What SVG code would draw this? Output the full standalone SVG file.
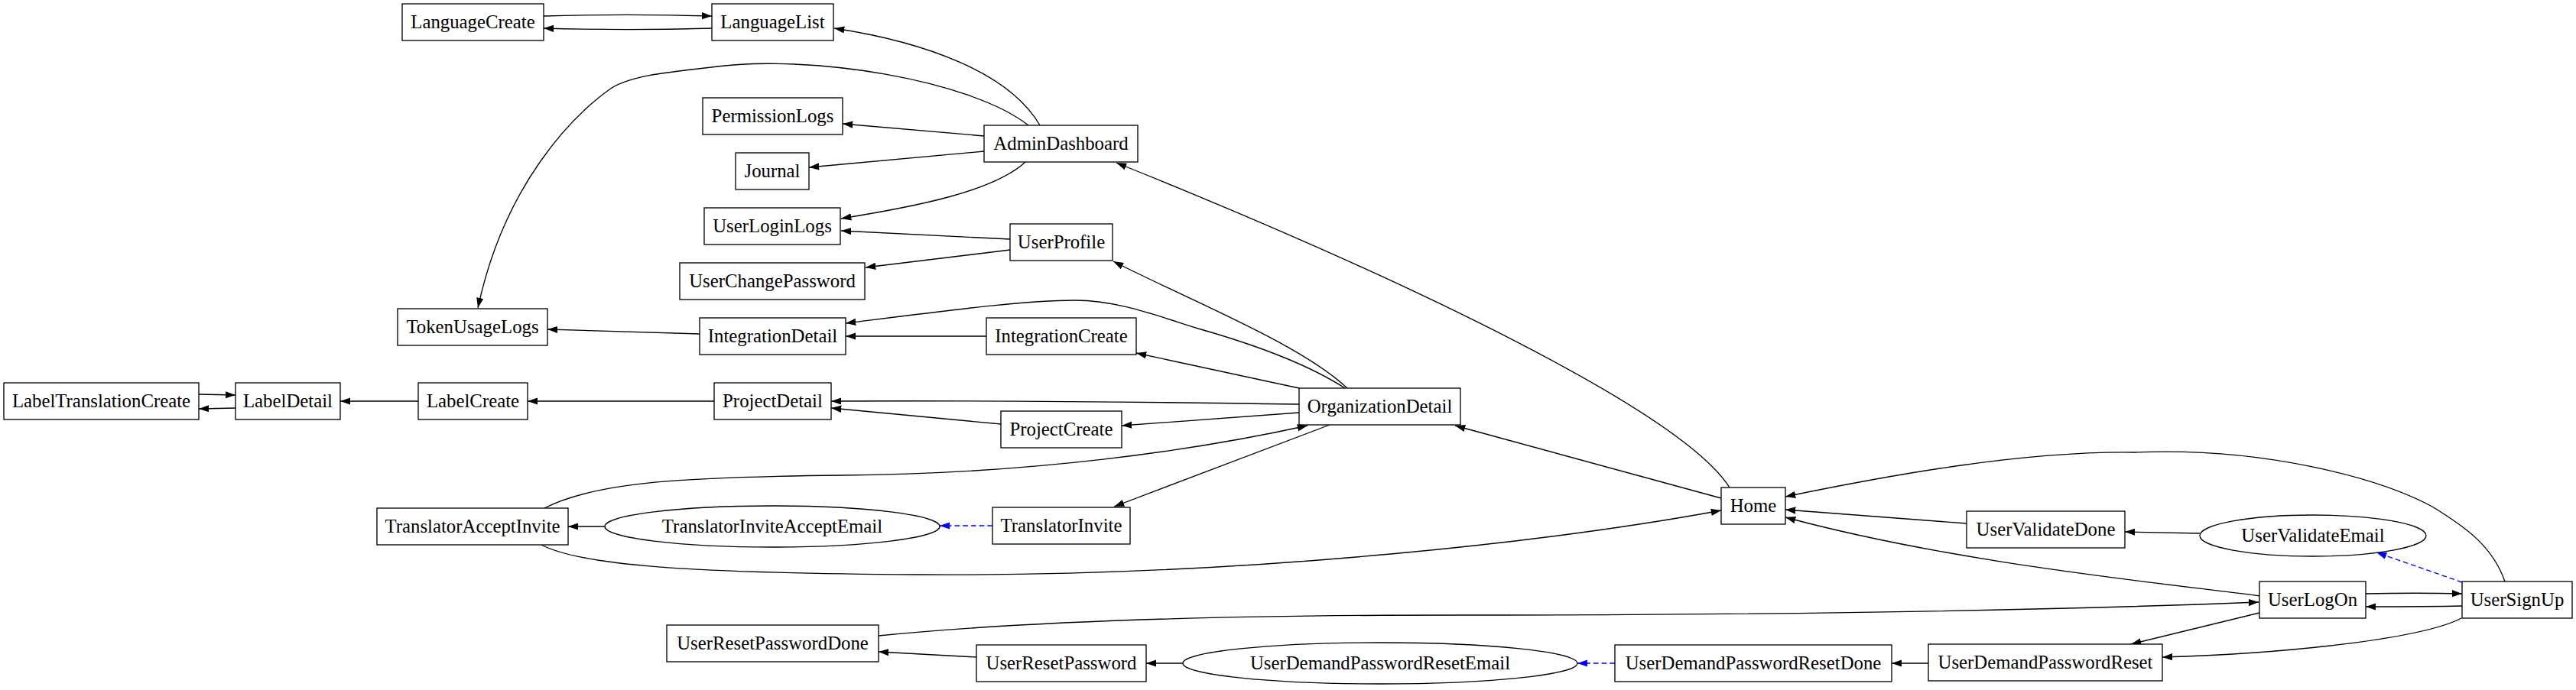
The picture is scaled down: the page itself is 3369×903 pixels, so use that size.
<svg xmlns="http://www.w3.org/2000/svg" width="3369" height="903" viewBox="0 0 3369 903">
<style>
.n rect,.n ellipse{fill:#fff;stroke:#000;stroke-width:1.33}
.n text{font-family:"Liberation Serif","Times New Roman",serif;font-size:24.8px;fill:#000;text-anchor:middle}
.e path{fill:none;stroke:#000;stroke-width:1.33;marker-end:url(#ah)}
.e path.d{stroke:#0000ff;stroke-dasharray:6.7,4;marker-end:url(#ahb)}
</style>
<defs>
<marker id="ah" viewBox="0 0 14 10" refX="13.3" refY="4.67" markerWidth="14" markerHeight="10" markerUnits="userSpaceOnUse" orient="auto"><path d="M0,0 L13.3,4.67 L0,9.33 Z" fill="#000"/></marker>
<marker id="ahb" viewBox="0 0 14 10" refX="13.3" refY="4.67" markerWidth="14" markerHeight="10" markerUnits="userSpaceOnUse" orient="auto"><path d="M0,0 L13.3,4.67 L0,9.33 Z" fill="#0000ff"/></marker>
</defs>
<rect width="3369" height="903" fill="#fff"/>
<g id="edges" class="e">
<path d="M711,21 C780,19 860,19 931,21"/>
<path d="M931,37 C860,39 780,39 711,37"/>
<path d="M1360,164 C1320,95 1210,55 1091,37"/>
<path d="M1345,164 C1270,105 1060,70 930,88 C860,96 825,100 800,115 C750,150 660,240 625,403"/>
<path d="M1287,178 L1102,162"/>
<path d="M1287,198 L1058,219"/>
<path d="M1341,212 C1300,250 1200,270 1100,286"/>
<path d="M1321,313 L1100,302"/>
<path d="M1321,327 L1132,350"/>
<path d="M1762,508 C1700,450 1560,395 1456,342"/>
<path d="M1759,508 C1700,470 1620,445 1567,430 C1510,412 1460,393 1406,393 C1340,393 1250,405 1106,423"/>
<path d="M1290,440 L1106,440"/>
<path d="M915,437 L716,431"/>
<path d="M1699,508 L1486,462"/>
<path d="M1699,529 C1500,526 1300,524 1087,525"/>
<path d="M1309,555 L1087,534"/>
<path d="M1699,540 L1467,557"/>
<path d="M934,525 L690,525"/>
<path d="M547,525 L445,525"/>
<path d="M308,534 L260,535"/>
<path d="M260,516 L308,517"/>
<path d="M712,665 C780,630 900,624 1100,622 C1350,620 1560,590 1710,557"/>
<path d="M1739,556 L1457,663"/>
<path class="d" d="M1298,688 L1229,688"/>
<path d="M791,689 L743,689"/>
<path d="M708,713 C760,740 900,750 1200,752 C1650,755 2050,705 2251,668"/>
<path d="M2251,652 L1903,557"/>
<path d="M2262,638 C2200,540 1850,370 1460,213"/>
<path d="M2572,685 L2335,667"/>
<path d="M2877,698 L2779,696"/>
<path d="M3276,761 C3260,715 3225,690 3181,663 C3110,625 2960,585 2792,592 C2650,590 2480,620 2335,650"/>
<path class="d" d="M3220,762 L3108,723"/>
<path d="M2956,780 C2800,760 2550,735 2335,677"/>
<path d="M1149,832 C1350,812 1600,805 1900,805 C2300,805 2650,800 2954,788"/>
<path d="M3094,777 C3140,776 3180,776 3220,777"/>
<path d="M3220,793 C3180,794 3140,794 3094,794"/>
<path d="M2955,802 L2787,843"/>
<path d="M3219,809 C3170,835 3000,855 2828,860"/>
<path d="M2522,868 L2474,868"/>
<path class="d" d="M2112,868 L2063,868"/>
<path d="M1547,868 L1499,868"/>
<path d="M1277,860 L1149,853"/>
</g>
<g id="LanguageCreate" class="n"><rect x="526" y="5" width="185" height="48"/><text x="618.5" y="37">LanguageCreate</text></g>
<g id="LanguageList" class="n"><rect x="931" y="5" width="159" height="48"/><text x="1010.5" y="37">LanguageList</text></g>
<g id="PermissionLogs" class="n"><rect x="919" y="128" width="183" height="48"/><text x="1010.5" y="160">PermissionLogs</text></g>
<g id="Journal" class="n"><rect x="962" y="200" width="96" height="48"/><text x="1010" y="232">Journal</text></g>
<g id="UserLoginLogs" class="n"><rect x="921" y="272" width="178" height="48"/><text x="1010" y="304">UserLoginLogs</text></g>
<g id="UserChangePassword" class="n"><rect x="889" y="344" width="242" height="48"/><text x="1010" y="376">UserChangePassword</text></g>
<g id="TokenUsageLogs" class="n"><rect x="520" y="404" width="196" height="48"/><text x="618" y="436">TokenUsageLogs</text></g>
<g id="IntegrationDetail" class="n"><rect x="915" y="416" width="191" height="48"/><text x="1010.5" y="448">IntegrationDetail</text></g>
<g id="LabelTranslationCreate" class="n"><rect x="5" y="501" width="255" height="48"/><text x="132.5" y="533">LabelTranslationCreate</text></g>
<g id="LabelDetail" class="n"><rect x="308" y="501" width="137" height="48"/><text x="376.5" y="533">LabelDetail</text></g>
<g id="LabelCreate" class="n"><rect x="547" y="501" width="143" height="48"/><text x="618.5" y="533">LabelCreate</text></g>
<g id="ProjectDetail" class="n"><rect x="934" y="501" width="153" height="48"/><text x="1010.5" y="533">ProjectDetail</text></g>
<g id="TranslatorAcceptInvite" class="n"><rect x="493" y="665" width="250" height="48"/><text x="618" y="697">TranslatorAcceptInvite</text></g>
<g id="TranslatorInviteAcceptEmail" class="n"><ellipse cx="1010" cy="689" rx="219" ry="27"/><text x="1010" y="697">TranslatorInviteAcceptEmail</text></g>
<g id="UserResetPasswordDone" class="n"><rect x="872" y="818" width="277" height="48"/><text x="1010.5" y="850">UserResetPasswordDone</text></g>
<g id="AdminDashboard" class="n"><rect x="1287" y="164" width="201" height="48"/><text x="1387.5" y="196">AdminDashboard</text></g>
<g id="UserProfile" class="n"><rect x="1321" y="293" width="134" height="48"/><text x="1388" y="325">UserProfile</text></g>
<g id="IntegrationCreate" class="n"><rect x="1290" y="416" width="196" height="48"/><text x="1388" y="448">IntegrationCreate</text></g>
<g id="ProjectCreate" class="n"><rect x="1309" y="538" width="158" height="48"/><text x="1388" y="570">ProjectCreate</text></g>
<g id="TranslatorInvite" class="n"><rect x="1298" y="664" width="180" height="48"/><text x="1388" y="696">TranslatorInvite</text></g>
<g id="UserResetPassword" class="n"><rect x="1277" y="844" width="222" height="48"/><text x="1388" y="876">UserResetPassword</text></g>
<g id="OrganizationDetail" class="n"><rect x="1699" y="508" width="211" height="48"/><text x="1804.5" y="540">OrganizationDetail</text></g>
<g id="UserDemandPasswordResetEmail" class="n"><ellipse cx="1805" cy="868" rx="258" ry="27"/><text x="1805" y="876">UserDemandPasswordResetEmail</text></g>
<g id="Home" class="n"><rect x="2251" y="638" width="84" height="48"/><text x="2293" y="670">Home</text></g>
<g id="UserDemandPasswordResetDone" class="n"><rect x="2112" y="844" width="362" height="48"/><text x="2293" y="876">UserDemandPasswordResetDone</text></g>
<g id="UserValidateDone" class="n"><rect x="2572" y="669" width="207" height="48"/><text x="2675.5" y="701">UserValidateDone</text></g>
<g id="UserDemandPasswordReset" class="n"><rect x="2522" y="843" width="306" height="48"/><text x="2675" y="875">UserDemandPasswordReset</text></g>
<g id="UserValidateEmail" class="n"><ellipse cx="3025" cy="701" rx="148" ry="27"/><text x="3025" y="709">UserValidateEmail</text></g>
<g id="UserLogOn" class="n"><rect x="2955" y="761" width="139" height="48"/><text x="3024.5" y="793">UserLogOn</text></g>
<g id="UserSignUp" class="n"><rect x="3220" y="761" width="144" height="48"/><text x="3292" y="793">UserSignUp</text></g>
</svg>
